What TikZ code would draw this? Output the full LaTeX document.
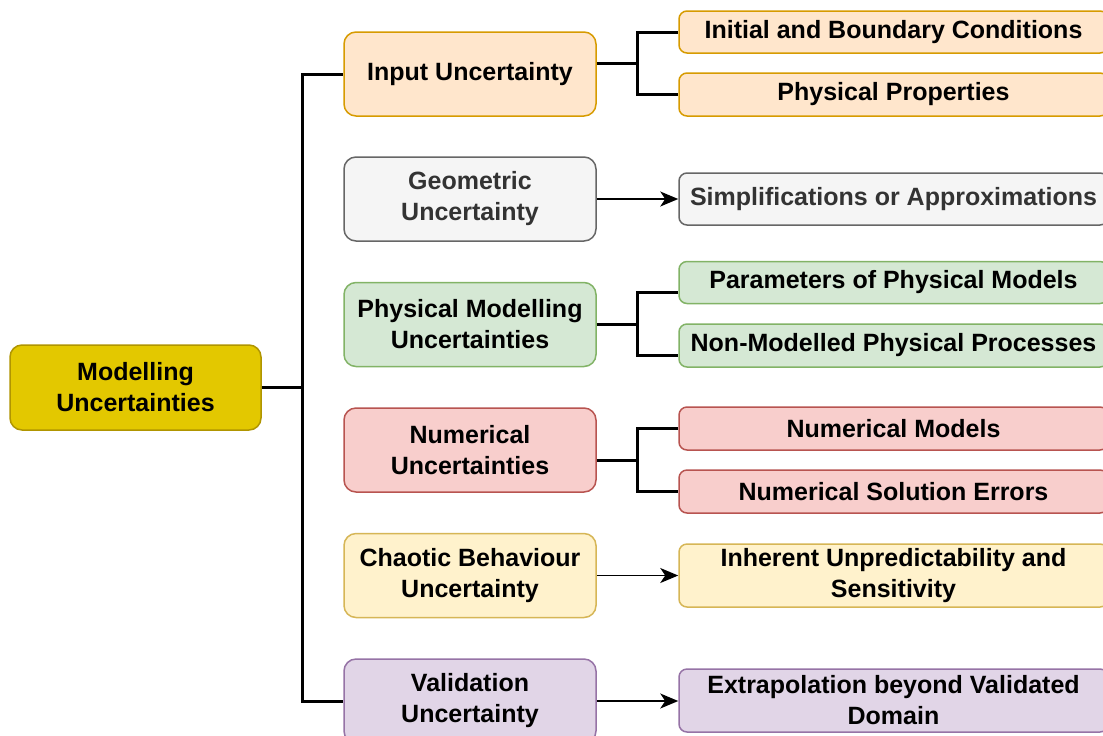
\documentclass[tikz,border=0pt]{standalone}
\usepackage{fontspec}
\setmainfont{Liberation Sans}
\usetikzlibrary{arrows.meta}
\definecolor{rootF}{HTML}{E3C800}\definecolor{rootD}{HTML}{B09500}
\definecolor{inF}{HTML}{FFE6CC}\definecolor{inD}{HTML}{D79B00}
\definecolor{geF}{HTML}{F5F5F5}\definecolor{geD}{HTML}{666666}\definecolor{geT}{HTML}{333333}
\definecolor{phF}{HTML}{D5E8D4}\definecolor{phD}{HTML}{82B366}
\definecolor{nuF}{HTML}{F8CECC}\definecolor{nuD}{HTML}{B85450}
\definecolor{chF}{HTML}{FFF2CC}\definecolor{chD}{HTML}{D6B656}
\definecolor{vaF}{HTML}{E1D5E7}\definecolor{vaD}{HTML}{9673A6}
\begin{document}
\begin{tikzpicture}[x=0.5pt,y=-0.5pt,
  box/.style={draw, line width=0.75pt, align=center, inner sep=0pt,
    font=\fontsize{12.5pt}{15.5pt}\selectfont\bfseries},
  midbox/.style={box, rounded corners=6pt, minimum width=126pt, minimum height=42pt},
  rootbox/.style={box, rounded corners=6pt, minimum width=125.5pt, minimum height=42.5pt, fill=rootF, draw=rootD},
  leaf/.style={box, rounded corners=4pt, minimum width=214.5pt},
  inS/.style={fill=inF, draw=inD},
  geS/.style={fill=geF, draw=geD, text=geT},
  phS/.style={fill=phF, draw=phD},
  nuS/.style={fill=nuF, draw=nuD},
  chS/.style={fill=chF, draw=chD},
  vaS/.style={fill=vaF, draw=vaD},
  tree/.style={line width=1.5pt, draw=black},
  arr/.style={line width=0.8pt, draw=black, -{Stealth[length=9pt, width=7.5pt, inset=2.5pt]}}
]
\clip (0,0) rectangle (1103,735);
\fill[white] (0,0) rectangle (1103,735);

% root
\node[rootbox] (root) at (135.5,387.5) {Modelling\\Uncertainties};

% middle column
\node[midbox, inS] (inp) at (470,74) {Input Uncertainty};
\node[midbox, geS] (geo) at (470,199) {Geometric\\Uncertainty};
\node[midbox, phS] (phys) at (470,324.5) {Physical Modelling\\Uncertainties};
\node[midbox, nuS] (num) at (470,450) {Numerical\\Uncertainties};
\node[midbox, chS] (chaos) at (470,575.5) {Chaotic Behaviour\\Uncertainty};
\node[midbox, vaS] (val) at (470,701) {Validation\\Uncertainty};

% leaves
\node[leaf, inS, minimum height=21pt] (ibc) at (893.5,32) {Initial and Boundary Conditions};
\node[leaf, inS, minimum height=21.5pt] (pp) at (893.5,94.5) {Physical Properties};
\node[leaf, geS, minimum height=26pt] (simp) at (893.5,199) {Simplifications or Approximations};
\node[leaf, phS, minimum height=21pt] (par) at (893.5,282.5) {Parameters of Physical Models};
\node[leaf, phS, minimum height=21.5pt] (nmp) at (893.5,345.5) {Non-Modelled Physical Processes};
\node[leaf, nuS, minimum height=21.5pt] (nm) at (893.5,428.5) {Numerical Models};
\node[leaf, nuS, minimum height=21.5pt] (nse) at (893.5,491.5) {Numerical Solution Errors};
\node[leaf, chS, minimum height=31.5pt] (inh) at (893.5,575.5) {Inherent Unpredictability and\\Sensitivity};
\node[leaf, vaS, minimum height=31.5pt] (ext) at (893.5,700.5) {Extrapolation beyond Validated\\Domain};

% trunk
\coordinate (t) at (302,387.5);
\draw[tree] (root.east) -- (t) |- (inp.west);
\draw[tree] (t) |- (val.west);

% input branch
\coordinate (b1) at (637,63);
\draw[tree] (inp.east |- b1) -- (b1) |- (ibc.west);
\draw[tree] (b1) |- (pp.west);

% physical branch
\coordinate (b2) at (637,324);
\draw[tree] (phys.east |- b2) -- (b2) |- ([yshift=-5pt]par.west);
\draw[tree] (b2) |- ([yshift=-5pt]nmp.west);

% numerical branch
\coordinate (b3) at (637,460.5);
\draw[tree] (num.east |- b3) -- (b3) |- (nm.west);
\draw[tree] (b3) |- (nse.west);

% arrows
\draw[arr] (geo.east) -- (geo.east -| simp.west);
\draw[arr] (chaos.east) -- (chaos.east -| inh.west);
\draw[arr] (val.east) -- (val.east -| ext.west);
\end{tikzpicture}
\end{document}
